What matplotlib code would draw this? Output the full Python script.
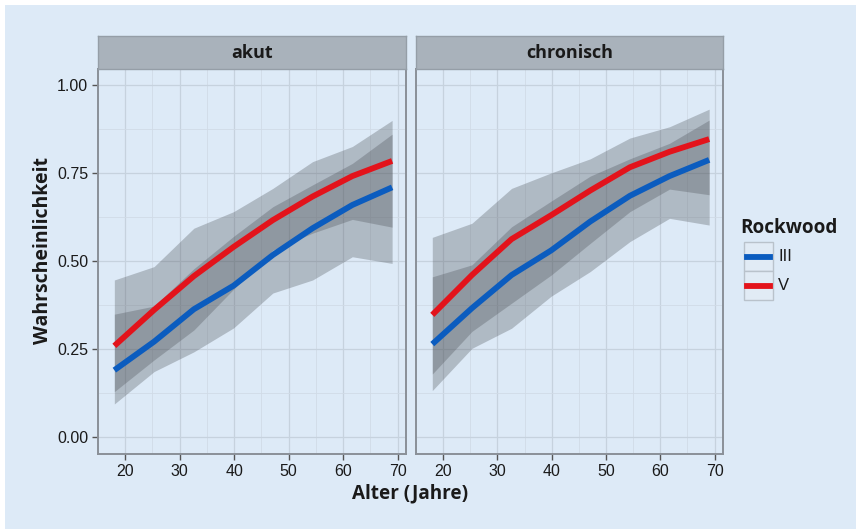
import matplotlib

matplotlib.use("Agg")
import matplotlib.pyplot as plt
from matplotlib.lines import Line2D
from matplotlib.patches import Rectangle

# ages where the fitted curves have knots
age = [18, 25.3, 32.6, 39.9, 47.1, 54.4, 61.7, 69]

facets = ["akut", "chronisch"]

# Rockwood III: fitted probability and band
akut_iii = [0.190, 0.271, 0.363, 0.430, 0.517, 0.593, 0.659, 0.709]
akut_iii_lo = [0.094, 0.186, 0.242, 0.310, 0.409, 0.446, 0.512, 0.493]
akut_iii_hi = [0.349, 0.372, 0.478, 0.570, 0.654, 0.716, 0.777, 0.860]
# Rockwood V
akut_v = [0.259, 0.361, 0.457, 0.540, 0.616, 0.683, 0.741, 0.784]
akut_v_lo = [0.129, 0.219, 0.304, 0.420, 0.531, 0.579, 0.618, 0.596]
akut_v_hi = [0.446, 0.484, 0.593, 0.640, 0.706, 0.782, 0.825, 0.899]

chron_iii = [0.264, 0.366, 0.460, 0.530, 0.612, 0.685, 0.741, 0.787]
chron_iii_lo = [0.132, 0.252, 0.309, 0.400, 0.470, 0.555, 0.621, 0.602]
chron_iii_hi = [0.455, 0.489, 0.597, 0.670, 0.741, 0.790, 0.834, 0.900]
chron_v = [0.347, 0.460, 0.562, 0.630, 0.700, 0.766, 0.810, 0.846]
chron_v_lo = [0.179, 0.300, 0.380, 0.460, 0.550, 0.640, 0.704, 0.688]
chron_v_hi = [0.567, 0.607, 0.706, 0.750, 0.790, 0.849, 0.881, 0.931]

x_ticks = [20, 30, 40, 50, 60, 70]
y_ticks = [0.00, 0.25, 0.50, 0.75, 1.00]
groups = ["III", "V"]

bg = "#ddeaf7"
strip_c = "#a9b2bb"
frame_c = "#8a9098"
ink = "#1a1a1a"
blue, red = "#0b5cbf", "#e3131b"
band_c, band_a = "#4a4f55", 0.31
tick_font = "Liberation Sans"
title_font = "Open Sans"

W, H = 856, 529
fig = plt.figure(figsize=(W / 100, H / 100), dpi=100, facecolor=bg)
# thin white margin along the top and left edge of the original picture
fig.patches.append(Rectangle((0, 1 - 5 / H), 1, 5 / H, transform=fig.transFigure,
                             facecolor="white", edgecolor="none"))
fig.patches.append(Rectangle((0, 0), 5 / W, 1, transform=fig.transFigure,
                             facecolor="white", edgecolor="none"))


def fx(px):
    return px / W


def fy(py):
    return 1 - py / H


panel_x = [(98, 406), (416, 723)]
top, bottom, strip_top = 69, 454, 36

data = {
    "akut": (akut_iii, akut_iii_lo, akut_iii_hi, akut_v, akut_v_lo, akut_v_hi),
    "chronisch": (chron_iii, chron_iii_lo, chron_iii_hi, chron_v, chron_v_lo, chron_v_hi),
}

for i, name in enumerate(facets):
    x0, x1 = panel_x[i]
    ax = fig.add_axes([fx(x0), fy(bottom), fx(x1 - x0), (bottom - top) / H])
    ax.set_facecolor(bg)
    iii, iii_lo, iii_hi, v, v_lo, v_hi = data[name]
    ax.fill_between(age, iii_lo, iii_hi, color=band_c, alpha=band_a, lw=0, zorder=2)
    ax.fill_between(age, v_lo, v_hi, color=band_c, alpha=band_a, lw=0, zorder=2)
    ax.plot(age, iii, color=blue, lw=4.2, solid_capstyle="butt", zorder=3)
    ax.plot(age, v, color=red, lw=4.2, solid_capstyle="butt", zorder=3)

    ax.set_xlim(15.45, 71.55)
    ax.set_ylim(-0.048, 1.045)
    ax.set_xticks(x_ticks)
    ax.set_yticks(y_ticks)
    ax.set_xticks([15, 25, 35, 45, 55, 65], minor=True)
    ax.set_yticks([0.125, 0.375, 0.625, 0.875], minor=True)
    ax.grid(True, which="major", color="#c6d2de", lw=0.9, zorder=0)
    ax.grid(True, which="minor", color="#d0dbe7", lw=0.6, zorder=0)
    ax.set_axisbelow(True)
    for s in ax.spines.values():
        s.set_color(frame_c)
        s.set_linewidth(1.4)
    ax.tick_params(which="minor", length=0)
    ax.tick_params(which="major", length=4, width=1, color="#555555", pad=3)
    ax.set_xticklabels([str(t) for t in x_ticks], fontsize=11.5, family=tick_font,
                       color=ink)
    if i == 0:
        ax.set_yticklabels([f"{t:.2f}" for t in y_ticks], fontsize=11.5,
                           family=tick_font, color=ink)
    else:
        ax.tick_params(axis="y", left=False, labelleft=False)

    sax = fig.add_axes([fx(x0), fy(top), fx(x1 - x0), (top - strip_top) / H])
    sax.set_facecolor(strip_c)
    sax.set_xticks([])
    sax.set_yticks([])
    for s in sax.spines.values():
        s.set_color("#959ea7")
        s.set_linewidth(1.0)
    sax.text(0.5, 0.47, name, ha="center", va="center", fontsize=13,
             fontweight="bold", family=title_font, color=ink, transform=sax.transAxes)

fig.text(fx(410), fy(493), "Alter (Jahre)", ha="center", va="center", fontsize=13.6,
         fontweight="bold", family=title_font, color=ink)
fig.text(fx(43), fy(251), "Wahrscheinlichkeit", ha="center", va="center", rotation=90,
         fontsize=14, fontweight="bold", family=title_font, color=ink)

# legend drawn by hand to get the ggplot key boxes
fig.text(fx(740), fy(228), "Rockwood", ha="left", va="center", fontsize=13.6,
         fontweight="bold", family=title_font, color=ink)
key_top = 242
for j, (g, c) in enumerate(zip(groups, [blue, red])):
    ky = key_top + j * 29
    fig.patches.append(Rectangle((fx(744), fy(ky + 29)), fx(29), 29 / H,
                                 transform=fig.transFigure, facecolor="#e1ebf5",
                                 edgecolor="#b9c2cb", lw=1.0))
    fig.lines.append(Line2D([fx(747), fx(770)], [fy(ky + 14.5)] * 2,
                            transform=fig.transFigure, color=c, lw=4.2))
    fig.text(fx(778), fy(ky + 14.5), g, ha="left", va="center", fontsize=12,
             family=tick_font, color=ink)

fig.savefig("out.png", dpi=100, facecolor=fig.get_facecolor())
